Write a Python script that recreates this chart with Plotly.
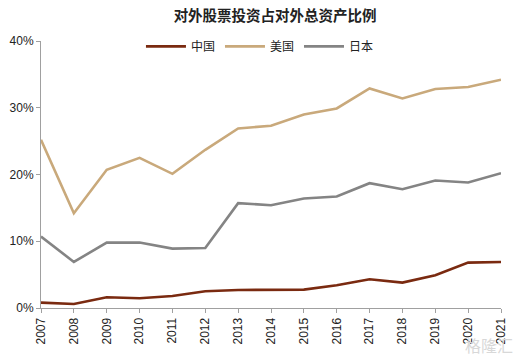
import plotly.graph_objects as go

years = list(range(2007, 2022))
tick_labels = [str(y) for y in years]
china = [0.8, 0.6, 1.6, 1.45, 1.8, 2.5, 2.7, 2.7, 2.75, 3.4, 4.3, 3.8, 4.9, 6.8, 6.9]
usa = [25.2, 14.2, 20.7, 22.5, 20.1, 23.7, 26.9, 27.3, 29.0, 29.9, 32.9, 31.4, 32.8, 33.1, 34.2]
japan = [10.7, 6.9, 9.8, 9.8, 8.9, 9.0, 15.7, 15.4, 16.4, 16.7, 18.7, 17.8, 19.1, 18.8, 20.2]

series = [("中国", china, "#7a2a10"), ("美国", usa, "#c9a97b"), ("日本", japan, "#848484")]

fig = go.Figure()
for name, vals, color in series:
    fig.add_trace(go.Scatter(x=years, y=vals, name=name, mode="lines",
                             line=dict(color=color, width=2.6)))

fig.update_layout(
    width=528, height=359,
    margin=dict(l=41, r=27, t=41, b=51, autoexpand=False),
    paper_bgcolor="white", plot_bgcolor="white",
    font=dict(family="Liberation Sans, Arial, sans-serif", size=12, color="#222"),
    title=dict(text="<b>对外股票投资占对外总资产比例</b>", x=0.509, xanchor="center",
               xref="paper", yref="container", y=0.955, yanchor="middle",
               automargin=False,
               font=dict(family="Noto Sans CJK SC", size=14.5, color="#222")),
    legend=dict(orientation="h", x=0.476, xanchor="center", y=0.98, yanchor="middle",
                font=dict(family="Noto Sans CJK SC", size=12, color="#222"),
                bgcolor="rgba(0,0,0,0)", itemwidth=40, tracegroupgap=0),
    showlegend=True,
    xaxis=dict(range=[2007, 2021], tickmode="array", tickvals=years, ticktext=tick_labels,
               tickangle=-90, showgrid=False, zeroline=False, automargin=False,
               showline=True, linecolor="#a0a0a0", linewidth=1,
               ticks="outside", ticklen=4, tickcolor="#a0a0a0",
               tickfont=dict(size=12, color="#222")),
    yaxis=dict(range=[0, 40], tickvals=[0, 10, 20, 30, 40], ticktext=["0%", "10%", "20%", "30%", "40%"],
               showgrid=False, zeroline=False, automargin=False,
               showline=True, linecolor="#a0a0a0", linewidth=1,
               ticks="outside", ticklen=4, tickcolor="#a0a0a0",
               tickfont=dict(size=12, color="#222")),
)

fig.add_annotation(text="格隆汇", xref="paper", yref="paper", x=1.03, y=-0.14,
                   xanchor="right", yanchor="middle", showarrow=False,
                   font=dict(family="Noto Sans CJK SC", size=16, color="#d8d8d8"))

fig.write_html("out.html", config={"displayModeBar": False},
               post_script="document.body.style.margin='0';document.body.style.overflow='hidden';")
